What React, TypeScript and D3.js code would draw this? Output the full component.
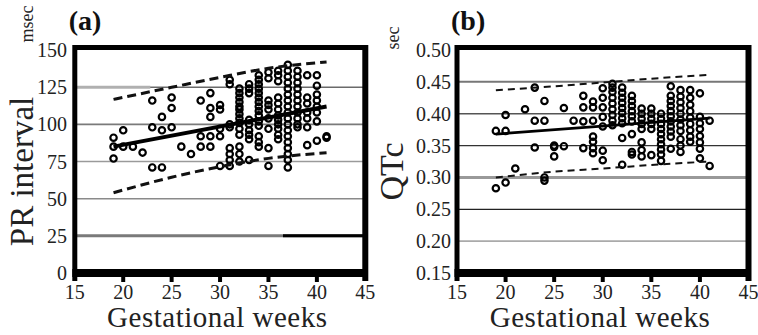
import React from "react";
import * as d3 from "d3";

// ---------- data ----------
const xTicks = [15, 20, 25, 30, 35, 40, 45];
const prTicks = [0, 25, 50, 75, 100, 125, 150];
const qtTicks = [0.15, 0.2, 0.25, 0.3, 0.35, 0.4, 0.45, 0.5];

const prWeeks = [19, 20, 21, 22, 23, 24, 25, 26, 27, 28, 29, 30, 31, 32, 33, 34, 35, 36, 37, 38, 39, 40, 41];
const prValues: number[][] = [
  [91, 77, 85],
  [96, 85],
  [85],
  [81],
  [116, 98, 71],
  [105, 96, 71],
  [118, 111, 98],
  [85],
  [80],
  [116, 92, 85],
  [121, 111, 105, 92, 85],
  [113, 110, 97, 92, 72],
  [130, 127, 100, 98, 84, 80, 76, 72],
  [124, 121, 118, 115, 112, 110, 107, 104, 101, 97, 93, 85, 80, 75],
  [127, 124, 121, 103, 100, 96, 93, 90, 76],
  [133, 130, 127, 124, 121, 118, 115, 112, 109, 106, 102, 99, 92, 88, 85],
  [135, 131, 116, 113, 110, 104, 97, 84, 72],
  [136, 133, 129, 118, 114, 110, 106, 103, 100, 97, 93, 90],
  [140, 136, 132, 128, 124, 120, 116, 112, 108, 104, 100, 96, 92, 88, 84, 80, 76, 71],
  [136, 132, 128, 124, 120, 116, 112, 108, 104, 100, 98],
  [133, 118, 114, 108, 104, 98, 86],
  [133, 126, 120, 116, 112, 108, 102, 89],
  [92, 91],
];
const prFitWeeks = [19, 41];
const prFit = [85, 112];
const prBandWeeks = [19, 25, 30, 35, 41];
const prUpper = [116.8, 124.9, 131.6, 137.7, 142];
const prLower = [54, 64.4, 71.5, 77.1, 80.9];

const qtWeeks = prWeeks;
const qtValues: number[][] = [
  [0.373, 0.283],
  [0.398, 0.373, 0.292],
  [0.314],
  [0.407],
  [0.441, 0.389, 0.347],
  [0.42, 0.389, 0.3, 0.295],
  [0.35, 0.348, 0.333],
  [0.409, 0.349],
  [0.389],
  [0.428, 0.41, 0.388, 0.346],
  [0.419, 0.41, 0.389, 0.364, 0.356, 0.346, 0.338],
  [0.44, 0.425, 0.41, 0.395, 0.38, 0.342, 0.327],
  [0.447, 0.441, 0.434, 0.425, 0.416, 0.407, 0.398, 0.389, 0.382],
  [0.441, 0.433, 0.425, 0.417, 0.409, 0.401, 0.393, 0.385, 0.362, 0.32],
  [0.428, 0.42, 0.412, 0.404, 0.396, 0.388, 0.368, 0.34, 0.336],
  [0.408, 0.4, 0.392, 0.384, 0.376, 0.355, 0.343, 0.333],
  [0.408, 0.4, 0.392, 0.384, 0.376, 0.335],
  [0.4, 0.392, 0.384, 0.376, 0.368, 0.36, 0.352, 0.344, 0.336, 0.326],
  [0.443, 0.428, 0.42, 0.412, 0.404, 0.396, 0.388, 0.38, 0.372, 0.364, 0.345],
  [0.437, 0.427, 0.418, 0.409, 0.4, 0.391, 0.382, 0.373, 0.36, 0.35, 0.34],
  [0.437, 0.425, 0.414, 0.404, 0.394, 0.384, 0.374, 0.364, 0.356],
  [0.432, 0.395, 0.385, 0.376, 0.365, 0.355, 0.345, 0.33],
  [0.389, 0.318],
];
const qtFitWeeks = [19, 41];
const qtFit = [0.368, 0.393];
const qtBandWeeks = [19, 25, 30, 35, 41];
const qtUpper = [0.437, 0.443, 0.449, 0.455, 0.461];
const qtLower = [0.3, 0.309, 0.314, 0.3195, 0.325];

// ---------- styles ----------
const gridStyleA: Record<string, { c: string; w: number }> = {
  "25": { c: "#7a7a7a", w: 3 },
  "50": { c: "#8a8a8a", w: 1.5 },
  "75": { c: "#9a9a9a", w: 1.5 },
  "100": { c: "#7a7a7a", w: 1.8 },
  "125": { c: "#6a6a6a", w: 1.5 },
};
const gridStyleB: Record<string, { c: string; w: number }> = {
  "0.45": { c: "#777", w: 2 },
  "0.40": { c: "#555", w: 1.5 },
  "0.35": { c: "#333", w: 1.3 },
  "0.30": { c: "#999", w: 3 },
  "0.25": { c: "#222", w: 1.3 },
  "0.20": { c: "#aaa", w: 1.8 },
};

const SERIF = "Liberation Serif";

type PanelProps = {
  x: d3.ScaleLinear<number, number>;
  y: d3.ScaleLinear<number, number>;
  yTicks: number[];
  fmt: (v: number) => string;
  grid: Record<string, { c: string; w: number }>;
  weeks: number[];
  values: number[][];
  fitWeeks: number[];
  fit: number[];
  bandWeeks: number[];
  upper: number[];
  lower: number[];
  fitWidth: number;
  dashWidth: number;
  dash: string;
  label: string;
  yTitle: string;
  yTitleSize: number;
  yTitleX: number;
  unit: string;
  unitX: number;
  unitY: number;
  tickLabelX: number;
  extras?: React.ReactNode;
};

function Panel(p: PanelProps) {
  const [x0, x1] = p.x.range();
  const [yb, yt] = p.y.range();
  const pts = p.weeks.flatMap((w, i) => p.values[i].map((v) => [w, v] as [number, number]));
  const line = d3
    .line<[number, number]>()
    .x((d) => p.x(d[0]))
    .y((d) => p.y(d[1]))
    .curve(d3.curveMonotoneX);
  const fitPath = line(p.fitWeeks.map((w, i) => [w, p.fit[i]]))!;
  const upPath = line(p.bandWeeks.map((w, i) => [w, p.upper[i]]))!;
  const loPath = line(p.bandWeeks.map((w, i) => [w, p.lower[i]]))!;
  const midY = (yb + yt) / 2;
  return (
    <g>
      {p.yTicks.map((t) => {
        const s = p.grid[p.fmt(t)];
        if (!s) return null;
        return <line key={t} x1={x0} x2={x1} y1={p.y(t)} y2={p.y(t)} stroke={s.c} strokeWidth={s.w} />;
      })}
      {p.extras}
      {pts.map((d, i) => (
        <circle key={i} cx={p.x(d[0])} cy={p.y(d[1])} r={3.2} fill="none" stroke="#000" strokeWidth={2.2} />
      ))}
      <path d={fitPath} fill="none" stroke="#000" strokeWidth={p.fitWidth} />
      <path d={upPath} fill="none" stroke="#111" strokeWidth={p.dashWidth} strokeDasharray={p.dash} />
      <path d={loPath} fill="none" stroke="#111" strokeWidth={p.dashWidth} strokeDasharray={p.dash} />
      <line x1={x0} x2={x1} y1={yt - 2.5} y2={yt - 2.5} stroke="#000" strokeWidth={5} />
      <line x1={x0 - 2.5} x2={x1 + 2.5} y1={yb} y2={yb} stroke="#000" strokeWidth={8} />
      <line x1={x0} x2={x0} y1={yt - 5} y2={yb + 8} stroke="#000" strokeWidth={5} />
      <line x1={x1} x2={x1} y1={yt - 5} y2={yb + 8} stroke="#000" strokeWidth={6} />
      {xTicks.slice(1, -1).map((t) => (
        <line key={t} x1={p.x(t)} x2={p.x(t)} y1={yb} y2={yb + 9} stroke="#000" strokeWidth={4} />
      ))}
      {xTicks.map((t) => (
        <text key={t} x={p.x(t)} y={299} fontSize={20} textAnchor="middle" fontFamily={SERIF} fill="#222">
          {t}
        </text>
      ))}
      {p.yTicks.map((t) => (
        <text key={t} x={p.tickLabelX} y={p.y(t) + 7} fontSize={20} textAnchor="end" fontFamily={SERIF} fill="#222">
          {p.fmt(t)}
        </text>
      ))}
      <text
        x={(x0 + x1) / 2 - 3}
        y={327}
        fontSize={29}
        textAnchor="middle"
        fontFamily={SERIF}
        fill="#222"
        textLength={220}
      >
        Gestational weeks
      </text>
      <text
        transform={`translate(${p.yTitleX},${midY + 10}) rotate(-90)`}
        fontSize={p.yTitleSize}
        textAnchor="middle"
        fontFamily={SERIF}
        fill="#222"
      >
        {p.yTitle}
      </text>
      <text
        transform={`translate(${p.unitX},${p.unitY}) rotate(-90)`}
        fontSize={18}
        textAnchor="middle"
        fontFamily={SERIF}
        fill="#222"
      >
        {p.unit}
      </text>
      <text x={x0 - 6} y={30} fontSize={28} fontWeight="bold" fontFamily={SERIF} fill="#111">
        {p.label}
      </text>
    </g>
  );
}

export default function App() {
  const xA = d3.scaleLinear().domain([15, 45]).range([74.8, 365.3]);
  const yA = d3.scaleLinear().domain([0, 150]).range([273, 50]);
  const xB = d3.scaleLinear().domain([15, 45]).range([457, 748.5]);
  const yB = d3.scaleLinear().domain([0.15, 0.5]).range([273, 50]);
  const fmtA = d3.format("d");
  const fmtB = d3.format(".2f");

  const extrasA = (
    <g>
      <line x1={xA(36.5)} x2={xA(45)} y1={yA(25)} y2={yA(25)} stroke="#000" strokeWidth={3} />
      <line x1={xA(15)} x2={xA(22.8)} y1={yA(125)} y2={yA(125)} stroke="#b0b0b0" strokeWidth={3} />
    </g>
  );

  return (
    <svg width={758} height={335} style={{ position: "absolute", left: 0, top: 0, background: "#fff" }}>
      <rect width={758} height={335} fill="#fff" />
      <Panel
        x={xA}
        y={yA}
        yTicks={prTicks}
        fmt={fmtA}
        grid={gridStyleA}
        weeks={prWeeks}
        values={prValues}
        fitWeeks={prFitWeeks}
        fit={prFit}
        bandWeeks={prBandWeeks}
        upper={prUpper}
        lower={prLower}
        fitWidth={4}
        dashWidth={3}
        dash="9 5"
        label="(a)"
        yTitle="PR interval"
        yTitleSize={33}
        yTitleX={33}
        unit="msec"
        unitX={33}
        unitY={24}
        tickLabelX={67}
        extras={extrasA}
      />
      <Panel
        x={xB}
        y={yB}
        yTicks={qtTicks}
        fmt={fmtB}
        grid={gridStyleB}
        weeks={qtWeeks}
        values={qtValues}
        fitWeeks={qtFitWeeks}
        fit={qtFit}
        bandWeeks={qtBandWeeks}
        upper={qtUpper}
        lower={qtLower}
        fitWidth={2.8}
        dashWidth={2}
        dash="7 5"
        label="(b)"
        yTitle="QTc"
        yTitleSize={34}
        yTitleX={403}
        unit="sec"
        unitX={399}
        unitY={38}
        tickLabelX={451}
      />
    </svg>
  );
}
